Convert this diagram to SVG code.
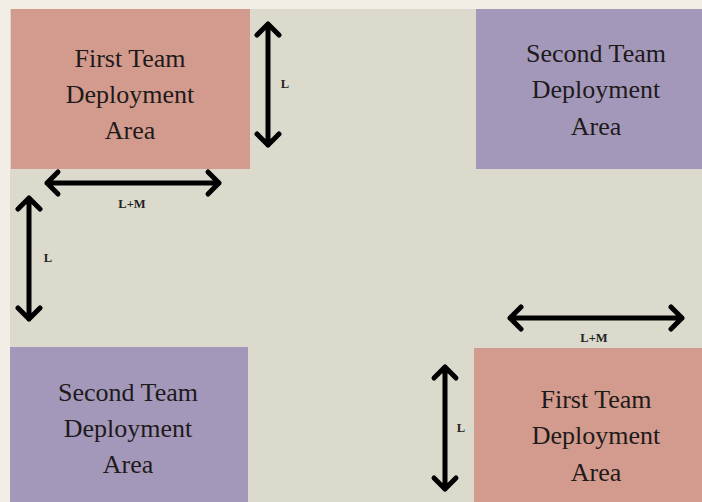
<svg xmlns="http://www.w3.org/2000/svg" width="702" height="502" viewBox="0 0 702 502">
<style>
.red{fill:#d39a8e}
.pur{fill:#a398ba}
.t{font-family:"Liberation Serif","DejaVu Serif",serif;font-size:26px;fill:#1e1a1a;text-anchor:middle}
.lab{font-family:"Liberation Serif","DejaVu Serif",serif;font-size:12.5px;font-weight:bold;fill:#222;text-anchor:middle}
.arr{fill:none;stroke:#000;stroke-width:5;stroke-linecap:round;stroke-linejoin:round}
</style>
<rect x="0" y="0" width="702" height="502" fill="#f2eee6"/>
<rect x="10" y="9" width="692" height="493" fill="#dcdacc"/>
<g id="first-team-top-left">
<rect class="red" x="11" y="9" width="239" height="160"/>
<text class="t" x="130" y="67">First Team</text>
<text class="t" x="130" y="103">Deployment</text>
<text class="t" x="130" y="139">Area</text>
</g>
<g id="second-team-top-right">
<rect class="pur" x="476" y="9" width="226" height="160"/>
<text class="t" x="596" y="62">Second Team</text>
<text class="t" x="596" y="98">Deployment</text>
<text class="t" x="596" y="135">Area</text>
</g>
<g id="second-team-bottom-left">
<rect class="pur" x="10" y="347" width="238" height="155"/>
<text class="t" x="128" y="401">Second Team</text>
<text class="t" x="128" y="437">Deployment</text>
<text class="t" x="128" y="473">Area</text>
</g>
<g id="first-team-bottom-right">
<rect class="red" x="474" y="348" width="228" height="154"/>
<text class="t" x="596" y="408">First Team</text>
<text class="t" x="596" y="444">Deployment</text>
<text class="t" x="596" y="481">Area</text>
</g>
<g id="connectors">
<path class="arr" d="M268 24V145M257 35L268 24L279 35M257 134L268 145L279 134"/>
<path class="arr" d="M47 183H219M58 172L47 183L58 194M208 172L219 183L208 194"/>
<path class="arr" d="M29 198V319M18 209L29 198L40 209M18 308L29 319L40 308"/>
<path class="arr" d="M510 318H682M521 307L510 318L521 329M671 307L682 318L671 329"/>
<path class="arr" d="M445 367V489M434 378L445 367L456 378M434 478L445 489L456 478"/>
<text class="lab" x="285" y="88">L</text>
<text class="lab" x="132" y="208">L+M</text>
<text class="lab" x="48" y="262">L</text>
<text class="lab" x="594" y="342">L+M</text>
<text class="lab" x="461" y="432">L</text>
</g>
</svg>
